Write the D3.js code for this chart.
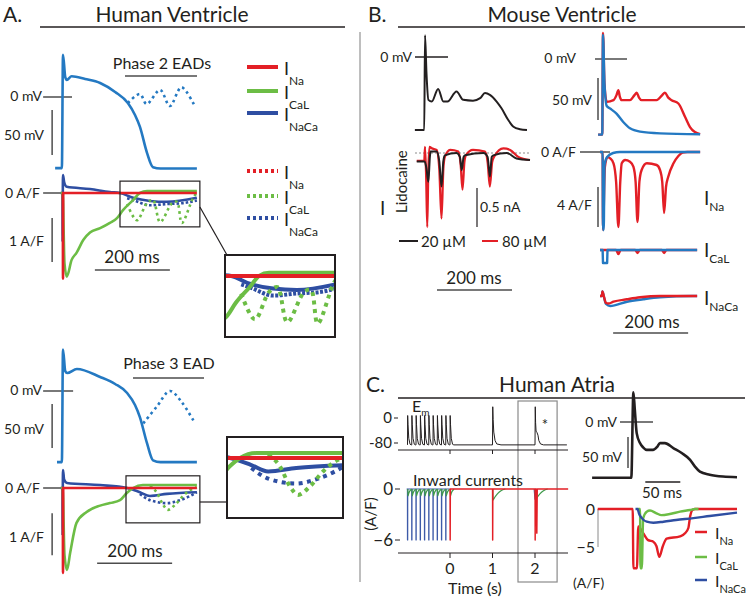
<!DOCTYPE html>
<html><head><meta charset="utf-8">
<script src="https://d3js.org/d3.v7.min.js"></script>
<style>
body{margin:0;background:#fff;}
svg text{font-family:Lato,"Open Sans","DejaVu Sans",sans-serif;fill:#231f20;}
</style></head><body>
<script>
// ================= DATA =================
// Panel A, human ventricle. time (ms), Vm (mV), currents (A/F)
const aTopAP   = [[-21,-79],[-3,-79],[0,47],[6,22],[10,19],[23,23],[59,20],[99,15.6],[139,5.6],[173,-6.7],[192,-20],[205,-33],[224,-62],[240,-78],[260,-79.5],[357,-79.5]];
const aTopEAD  = [[173,-6.7],[205,3.3],[223,-7.8],[259,7.8],[285,-10],[316,10.8],[352,-10.8]];
const aTopINa  = [[-3,0],[-0.5,0],[0,-1.95],[0.5,0],[357,0]];
const aTopICaL = [[-6,0],[-1,0],[4,-1.6],[10,-1.9],[23,-1.52],[36,-1.36],[54,-1.07],[72,-0.9],[99,-0.8],[125,-0.68],[144,-0.57],[160,-0.39],[187,-0.16],[205,0],[224,0.045],[357,0.045]];
const aTopICaLEAD = [[171,-0.25],[197,-0.62],[224,-0.23],[240,-0.16],[259,-0.66],[291,-0.23],[304,-0.2],[317,-0.68],[347,-0.11],[357,0]];
const aTopINaCa = [[-6,0],[-1.5,0],[-1,-1.1],[-0.5,0],[0,0.41],[3,0.25],[10,0.14],[72,0.09],[125,0.02],[152,0],[187,-0.11],[232,-0.18],[277,-0.2],[357,-0.11]];
const aTopINaCaEAD = [[171,-0.12],[190,-0.17],[232,-0.28],[277,-0.25],[320,-0.23],[357,-0.17]];

const aBotAP   = [[-16,-79],[-3,-79],[0,46],[6,22],[11,20],[37,24.4],[99,15.6],[139,7.8],[171,-2.2],[192,-15.6],[205,-29],[224,-58],[240,-77],[260,-79],[357,-79]];
const aBotEAD  = [[214,-36],[250,-17.4],[285,0],[316,-12],[352,-36]];
const aBotINa  = [[-3,0],[-0.5,0],[0,-2.02],[0.5,0],[357,0]];
const aBotICaL = [[-6,0],[-1,0],[4,-1.6],[10.7,-1.95],[19,-1.55],[36,-0.83],[63,-0.57],[99,-0.42],[125,-0.36],[152,-0.29],[170,-0.12],[187,0],[213,0.07],[357,0.07]];
const aBotICaLEAD = [[232,0.05],[251,-0.12],[267,-0.4],[280,-0.52],[299,-0.4],[320,-0.19],[339,-0.05],[357,0.02]];
const aBotINaCa = [[-6,0],[-1.5,0],[-1,-1.12],[-0.5,0],[0,0.43],[3,0.2],[10.7,0.12],[99,0.07],[171,0],[205,-0.1],[232,-0.19],[277,-0.14],[357,-0.1]];
const aBotINaCaEAD = [[205,-0.14],[232,-0.29],[277,-0.36],[312,-0.29],[339,-0.19],[357,-0.1]];

const aLegendSubs = ["Na","CaL","NaCa"];

// Panel B, mouse ventricle. left: Vm (mV) and I_Lidocaine (nA); right: Vm (mV), currents (A/F)
const bLeftAP = [[-27,-87],[-2,-87],[0,26],[4,-20],[9,-51],[18,-53],[35,-38],[49,-53],[60,-53],[84,-41],[102,-51],[128,-52],[147,-49],[160,-43],[173,-45],[191,-53],[204,-61],[222,-75],[236,-83],[253,-86],[272,-87]];
const bLeft20uM = [[-22,-0.11],[-1,-0.11],[4,-0.2],[9,-0.37],[13,-0.05],[15,0.02],[31,0.02],[38,-0.1],[44,-0.43],[49,-0.1],[53,-0.03],[84,0],[93,-0.05],[98,-0.22],[103,-0.05],[107,-0.03],[156,0],[167,-0.05],[173,-0.3],[178,-0.05],[182,-0.03],[218,0],[244,-0.07],[280,-0.09]];
const bLeft80uM = [[-22,-0.1],[-2,-0.1],[0,0.08],[3,-0.3],[6,-0.95],[9,-0.2],[12,0.08],[18,0.06],[31,0.04],[38,-0.2],[44,-0.84],[49,-0.2],[53,-0.05],[67,0.04],[89,0.02],[95,-0.15],[100,-0.47],[105,-0.12],[109,-0.03],[128,0.04],[160,0.02],[167,-0.12],[173,-0.43],[179,-0.12],[184,-0.05],[209,0.06],[227,0.04],[249,-0.05],[280,-0.09]];
const bLegend = ["20 µM","80 µM"];

const bRightAPblue = [[-13,-90],[-2,-90],[0,28.6],[4,-30],[10,-56],[19,-59],[36,-65],[54,-75],[72,-82.5],[99,-86.5],[152,-88.5],[259,-89.5]];
const bRightAPred  = [[-13,-90],[-2,-90],[0,31],[4,-30],[10,-51],[28,-49],[36,-43],[41,-37],[45,-45],[50,-49],[72,-49],[84,-43],[90,-40],[96,-46],[103,-49],[143,-49],[158,-43],[165,-40],[174,-46],[183,-49],[201,-53],[219,-69],[232,-81],[245,-87],[259,-89.5]];
const bRightINaBlue = [[-8,0],[-1,0],[0,-7.8],[2,-7.8],[4,-1.3],[11,-0.5],[27,-0.1],[45,0],[259,0]];
const bRightINaRed  = [[-8,0],[-1,0],[0,-7.8],[5,-1.5],[12,-0.5],[19,-0.63],[28,-1.13],[35,-3],[41,-7.5],[46,-3],[50,-1.13],[59,-0.8],[72,-0.97],[81,-1.47],[87,-3],[92,-7],[97,-3],[103,-1.8],[117,-1.13],[143,-1.3],[152,-1.8],[158,-3],[163,-6.1],[168,-3.5],[174,-2.47],[188,-1.13],[201,-0.4],[212,-0.07],[225,0],[259,0]];
const bRightICaLBlue = [[-8,0],[-1,0],[0,-1.3],[11,-1.3],[12,0],[251,0]];
const bRightICaLRed  = [[-8,0],[35,0],[41,-0.4],[47,0],[86,0],[92,-0.3],[98,0],[157,0],[163,-0.3],[169,0],[251,0]];
const bRightINaCaBlue = [[-8,0],[-3,0],[-1.5,0.45],[2,0],[8,-0.8],[19,-1.0],[64,-0.57],[107,-0.33],[152,-0.13],[240,0],[251,0]];
const bRightINaCaRed  = [[-8,0],[-3,0],[-1.5,0.45],[2,0],[8,-0.7],[15,-0.75],[28,-0.57],[64,-0.33],[99,-0.13],[152,0],[251,0]];
const bRightSubs = ["Na","CaL","NaCa"];

// Panel C, human atria. left: time (s), Em (mV), inward currents (A/F)
const cTrainTimes = [-1.0,-0.9,-0.8,-0.7,-0.6,-0.5,-0.4,-0.3,-0.2,-0.1,0.0];
const cTrainSpike = [[0,-86],[0.004,8],[0.012,-20],[0.03,-65],[0.06,-84],[0.09,-86]];
const cBeat1 = [[0.95,-86],[1.0,-86],[1.006,36],[1.015,-5],[1.03,-45],[1.06,-72],[1.1,-83],[1.2,-86]];
const cBeat2 = [[1.95,-86],[2.0,-86],[2.006,36],[2.014,-15],[2.025,-42],[2.045,-46],[2.07,-55],[2.09,-72],[2.13,-83],[2.2,-86],[2.75,-86]];
const cBlueSpike = [[-0.001,0],[0,-6],[0.004,-6],[0.005,0]];
const cGreenArc  = [[0.006,0],[0.012,-0.8],[0.03,-0.5],[0.06,-0.2],[0.095,-0.02]];
const cGreenBeat = [[0.006,0],[0.015,-1.3],[0.05,-1.0],[0.12,-0.55],[0.2,-0.2],[0.3,0]];
const cRedINa = [[-0.01,0],[0,0],[0.002,-6],[0.006,-6],[0.01,0],[1.0,0],[1.002,-6],[1.006,-6],[1.01,0],[2.0,0],[2.002,-6],[2.006,-6],[2.01,0],[2.03,0],[2.04,-5.2],[2.045,-5.2],[2.055,0],[2.78,0]];
const cBlueBeat2 = [[1.98,0],[2.0,-1.2],[2.03,0]];
const cEmTicks = [0,-80];
const cITicks = [0,-6];
const cTimeTicks = [0,1,2];
// right: time (ms), Vm (mV), currents (A/F)
const cRightAP = [[-57,-90],[-1,-90],[2,48],[4,20],[6.7,-18],[11.4,-34],[16,-41],[21,-45],[30,-45],[36,-40],[40,-34],[47,-34],[59,-42],[71,-50],[83,-61],[90,-72],[97,-80],[111,-85],[130,-88],[150,-89]];
const cRightINa = [[-49,0],[1,0],[2,-7.8],[7,-7.8],[9,-2.3],[16,-3.2],[23,-4.1],[30.5,-4.3],[35,-4.9],[39,-6.3],[44,-4.9],[49.5,-3.9],[68.6,-3.6],[75.7,-3.2],[80.5,-2.5],[83,-1.0],[86.7,-0.1],[90,0],[150,0]];
const cRightICaL = [[8,0],[11.5,0],[12,-7.8],[14,-7.8],[16,-1.2],[21,-0.35],[25.7,-0.2],[35,-0.57],[42,-0.8],[54,-0.66],[68.6,-0.35],[83,-0.13],[90,0],[95,0]];
const cRightINaCa = [[5,0],[8,0],[10,-0.6],[14,-1.2],[21,-1.67],[30.5,-1.8],[45,-1.67],[63,-1.45],[87.6,-1.2],[111,-0.92],[150,-0.48]];
const cRightITicks = [0,-5];
const cRightSubs = ["Na","CaL","NaCa"];

// ================= DRAWING =================
const COL = {ap:'#2479c2', ncx:'#2e4ea2', red:'#e31f26', green:'#6cbd45', black:'#231f20', bar:'#4d4d4d', cblue:'#3d5aa8', cgreen:'#3f9a4a'};
const svg = d3.select('body').append('svg').attr('width',747).attr('height',598);
const root = svg.append('g');

function lin(d0,d1,r0,r1){return d3.scaleLinear().domain([d0,d1]).range([r0,r1]);}
function trace(g,data,xs,ys,color,w,dash,curve){
  const l=d3.line().x(d=>xs(d[0])).y(d=>ys(d[1])).curve(curve||d3.curveMonotoneX);
  const p=g.append('path').attr('d',l(data)).attr('fill','none').attr('stroke',color)
    .attr('stroke-width',w).attr('stroke-linejoin','round');
  if(dash)p.attr('stroke-dasharray',dash);
  return p;
}
function seg(g,x1,y1,x2,y2,color,w){return g.append('line').attr('x1',x1).attr('y1',y1).attr('x2',x2).attr('y2',y2).attr('stroke',color).attr('stroke-width',w);}
function txt(g,x,y,s,size,anchor){return g.append('text').attr('x',x).attr('y',y).attr('font-size',size).attr('text-anchor',anchor||'start').text(s);}
function ilabel(g,x,y,sub,size,subSize,dy){
  const t=g.append('text').attr('x',x).attr('y',y).attr('font-size',size);
  t.append('tspan').text('I');
  t.append('tspan').attr('font-size',subSize).attr('dy',dy).text(sub);
  return t;
}
function rect(g,x0,y0,x1,y1,color,w){return g.append('rect').attr('x',x0).attr('y',y0).attr('width',x1-x0).attr('height',y1-y0).attr('fill','none').attr('stroke',color).attr('stroke-width',w);}

// ---------- titles ----------
txt(root,3,22,'A.',21);
txt(root,172,22,'Human Ventricle',21,'middle');
seg(root,40,27,345,27,COL.black,1.3);
txt(root,368,22,'B.',21);
txt(root,562,22,'Mouse Ventricle',21,'middle');
seg(root,398,27,745,27,COL.black,1.3);
seg(root,360,32,360,582,'#a8a8a8',1.5);

// ---------- Panel A top ----------
const aX = lin(0,200,63,138);
const aTopV = lin(0,50,97,52);
const aTopI = lin(0,1,193,149);
txt(root,162,69,'Phase 2 EADs',16,'middle');
seg(root,125,76,197,76,COL.bar,1.5);
seg(root,aX(-53),aTopV(0),aX(24),aTopV(0),COL.bar,1.5);
txt(root,42,101,'0 mV',14,'end');
seg(root,aX(-29),aTopV(-14.4),aX(-29),aTopV(-64.4),COL.bar,1.5);
txt(root,44,140,'50 mV',14,'end');
trace(root,aTopEAD,aX,aTopV,COL.ap,2.6,'2.6 3.4',d3.curveCatmullRom);
trace(root,aTopAP,aX,aTopV,COL.ap,2.6);

seg(root,aX(-53),aTopI(0),aX(24),aTopI(0),COL.bar,1.5);
txt(root,40,198,'0 A/F',14,'end');
seg(root,aX(-29),aTopI(-0.57),aX(-29),aTopI(-1.57),COL.bar,1.5);
txt(root,44,246,'1 A/F',14,'end');
trace(root,aTopINaCaEAD,aX,aTopI,COL.ncx,2.6,'2.6 2');
trace(root,aTopINaCa,aX,aTopI,COL.ncx,2.6);
trace(root,aTopICaLEAD,aX,aTopI,COL.green,2.6,'2.6 3.4',d3.curveCatmullRom);
trace(root,aTopICaL,aX,aTopI,COL.green,2.6);
trace(root,aTopINa,aX,aTopI,COL.red,2.6);
seg(root,aX(85),aTopI(-1.75),aX(285),aTopI(-1.75),COL.bar,1.6);
txt(root,132,263,'200 ms',17,'middle');
rect(root,aX(152),aTopI(0.27),aX(365),aTopI(-0.77),COL.black,1.2);

// zoomed box (top)
const zt = {x0:225,y0:255,x1:335,y1:337};
seg(root,aX(365),207,zt.x0+2,zt.y0,COL.black,1.2);
svg.append('defs').append('clipPath').attr('id','clipT').append('rect').attr('x',zt.x0).attr('y',zt.y0).attr('width',zt.x1-zt.x0).attr('height',zt.y1-zt.y0);
const gZT = root.append('g').attr('clip-path','url(#clipT)');
const zTX = lin(140,350,zt.x0,zt.x1);
const zTY = lin(0,1,276,206);
trace(gZT,aTopINaCaEAD,zTX,zTY,COL.ncx,4,'3 1.5');
trace(gZT,aTopINaCa,zTX,zTY,COL.ncx,4);
trace(gZT,aTopICaLEAD,zTX,zTY,COL.green,4,'4 4.5',d3.curveCatmullRom);
trace(gZT,aTopICaL,zTX,zTY,COL.green,4);
trace(gZT,aTopINa,zTX,zTY,COL.red,4);
rect(root,zt.x0,zt.y0,zt.x1,zt.y1,COL.black,2);

// legend A
const aLegY = [67,91,113];
const aLegCol = [COL.red,COL.green,COL.ncx];
aLegendSubs.forEach((s,i)=>{
  seg(root,247,aLegY[i],278,aLegY[i],aLegCol[i],4);
  ilabel(root,284,aLegY[i]+8,s,18,12,10);
});
const aLegY2 = [171,196,218];
aLegendSubs.forEach((s,i)=>{
  seg(root,247,aLegY2[i],278,aLegY2[i],aLegCol[i],4).attr('stroke-dasharray','3 3');
  ilabel(root,284,aLegY2[i]+8,s,18,12,10);
});

// ---------- Panel A bottom ----------
const aBotV = lin(0,50,391,346);
const aBotI = lin(0,1,488,446);
txt(root,169,369,'Phase 3 EAD',16,'middle');
seg(root,133,378,204,378,COL.bar,1.5);
seg(root,aX(-53),aBotV(0),aX(27),aBotV(0),COL.bar,1.5);
txt(root,42,395,'0 mV',14,'end');
seg(root,aX(-29),aBotV(-14.4),aX(-29),aBotV(-63.3),COL.bar,1.5);
txt(root,44,434,'50 mV',14,'end');
trace(root,aBotEAD,aX,aBotV,COL.ap,2.6,'2.6 3.4',d3.curveCatmullRom);
trace(root,aBotAP,aX,aBotV,COL.ap,2.6);

seg(root,aX(-53),aBotI(0),aX(24),aBotI(0),COL.bar,1.5);
txt(root,40,493,'0 A/F',14,'end');
seg(root,aX(-29),aBotI(-0.6),aX(-29),aBotI(-1.6),COL.bar,1.5);
txt(root,44,542,'1 A/F',14,'end');
trace(root,aBotINaCaEAD,aX,aBotI,COL.ncx,2.6,'2.6 2.4');
trace(root,aBotINaCa,aX,aBotI,COL.ncx,2.6);
trace(root,aBotICaLEAD,aX,aBotI,COL.green,2.6,'2.6 3.4');
trace(root,aBotICaL,aX,aBotI,COL.green,2.6);
trace(root,aBotINa,aX,aBotI,COL.red,2.6);
seg(root,aX(91),aBotI(-1.79),aX(291),aBotI(-1.79),COL.bar,1.6);
txt(root,135,557,'200 ms',17,'middle');
rect(root,aX(168),aBotI(0.29),aX(365),aBotI(-0.83),COL.black,1.2);

const zb = {x0:227,y0:437,x1:343,y1:518};
seg(root,aX(365),502,zb.x0,502,COL.black,1.2);
svg.select('defs').append('clipPath').attr('id','clipB').append('rect').attr('x',zb.x0).attr('y',zb.y0).attr('width',zb.x1-zb.x0).attr('height',zb.y1-zb.y0);
const gZB = root.append('g').attr('clip-path','url(#clipB)');
const zBX = lin(166,352,zb.x0,zb.x1);
const zBY = lin(0,1,458,387);
trace(gZB,aBotINaCaEAD,zBX,zBY,COL.ncx,4,'4 4.5');
trace(gZB,aBotINaCa,zBX,zBY,COL.ncx,4);
trace(gZB,aBotICaLEAD,zBX,zBY,COL.green,4,'4 4.5');
trace(gZB,aBotICaL,zBX,zBY,COL.green,4);
trace(gZB,aBotINa,zBX,zBY,COL.red,4);
rect(root,zb.x0,zb.y0,zb.x1,zb.y1,COL.black,2);

// ---------- Panel B left ----------
const bX = lin(0,200,425,500);
const bLV = lin(0,50,57,15);
const bLI = lin(0,0.5,153,114);
seg(root,415,bLV(0),448,bLV(0),COL.black,1.3);
txt(root,412,62,'0 mV',14,'end');
trace(root,bLeftAP,bX,bLV,COL.black,2);
seg(root,415,bLI(0),530,bLI(0),'#8c8c8c',1).attr('stroke-dasharray','2 2');
trace(root,bLeft80uM,bX,bLI,COL.red,2.2);
trace(root,bLeft20uM,bX,bLI,COL.black,2);
txt(root,380,215,'I',19);
txt(root,0,0,'Lidocaine',15).attr('transform','translate(407,213) rotate(-90)');
seg(root,477,bLI(-0.45),477,bLI(-0.95),COL.black,1.2);
txt(root,480,212,'0.5 nA',14);
seg(root,399,241,418,241,COL.black,2);
txt(root,421,247,bLegend[0],15);
seg(root,482,241,498,241,COL.red,2);
txt(root,502,247,bLegend[1],15);
seg(root,bX(32),290,bX(232),290,COL.bar,1.6);
txt(root,474,284,'200 ms',17,'middle');

// ---------- Panel B right ----------
const bRX = lin(0,200,603,678);
const bRV = lin(0,50,59,17);
const bRINa = lin(0,1,152,142);
const bRICaL = lin(0,1,250,240);
const bRNCX = lin(0,1,296,286);
seg(root,595,bRV(0),627,bRV(0),COL.bar,1.5);
txt(root,576,63,'0 mV',14,'end');
seg(root,598,bRV(-22.6),598,bRV(-72.6),COL.bar,1.5);
txt(root,592,105,'50 mV',14,'end');
trace(root,bRightAPred,bRX,bRV,COL.red,2.4);
trace(root,bRightAPblue,bRX,bRV,COL.ap,2.4);
seg(root,580,bRINa(0),610,bRINa(0),COL.bar,1.5);
txt(root,576,157,'0 A/F',14,'end');
seg(root,598,bRINa(-3.5),598,bRINa(-7.5),COL.bar,1.5);
txt(root,592,210,'4 A/F',14,'end');
trace(root,bRightINaRed,bRX,bRINa,COL.red,2.4);
trace(root,bRightINaBlue,bRX,bRINa,COL.ap,2.4);
trace(root,bRightICaLRed,bRX,bRICaL,COL.red,2.4);
trace(root,bRightICaLBlue,bRX,bRICaL,COL.ap,2.4,null,d3.curveLinear);
trace(root,bRightINaCaBlue,bRX,bRNCX,COL.ap,2.4);
trace(root,bRightINaCaRed,bRX,bRNCX,COL.red,2.4);
const bRLabY=[205,257,305];
bRightSubs.forEach((s,i)=>ilabel(root,704,bRLabY[i],s,19,12,6));
seg(root,bRX(27),333,bRX(227),333,COL.bar,1.6);
txt(root,652,328,'200 ms',17,'middle');

// ---------- Panel C ----------
txt(root,366,392,'C.',21);
txt(root,557,392,'Human Atria',21,'middle');
seg(root,398,398,745,398,COL.black,1.3);

const cX = lin(0,2,450,535);
const cEmY = lin(0,-80,418,443);
const cIY = lin(0,-6,489,540);
const cEm = [].concat(...cTrainTimes.map(t=>cTrainSpike.map(p=>[t+p[0],p[1]])), cBeat1, cBeat2);
rect(root,cX(1.6),401,cX(2.52),582,'#8a8a8a',1.2);
txt(root,412,412,'E',16).append('tspan').attr('font-size',10).attr('dy',4).text('m');
cEmTicks.forEach(v=>{
  seg(root,394,cEmY(v),398,cEmY(v),COL.black,1);
  txt(root,392,cEmY(v)+5,v===0?'0':'-80',15,'end');
});
seg(root,398,450,568,450,COL.black,1);
cTimeTicks.forEach(t=>seg(root,cX(t),450,cX(t),454,COL.black,1));
trace(root,cEm,cX,cEmY,COL.black,1,null,d3.curveLinear);
txt(root,545,430,'*',15,'middle').attr('fill','#555');

txt(root,413,486,'Inward currents',16);
cITicks.forEach(v=>{
  seg(root,395,cIY(v),400,cIY(v),COL.black,1);
  txt(root,393,cIY(v)+6,v===0?'0':'\u22126',17,'end');
});
txt(root,0,0,'(A/F)',15).attr('text-anchor','middle').attr('transform','translate(376,514) rotate(-90)');
seg(root,398,553,568,553,COL.black,1);
cTimeTicks.forEach(t=>{
  seg(root,cX(t),553,cX(t),558,COL.black,1);
  txt(root,cX(t),574,String(t),16,'middle');
});
txt(root,475,594,'Time (s)',16,'middle');
// currents
const cBlue = [[-1.02,0]].concat(...cTrainTimes.slice(0,10).map(t=>cBlueSpike.map(p=>[t+p[0],p[1]])),[[-0.01,0]]);
trace(root,cBlue,cX,cIY,COL.cblue,1.2,null,d3.curveLinear);
trace(root,cBlueBeat2,cX,cIY,COL.cblue,1.2,null,d3.curveLinear);
cTrainTimes.forEach(t=>trace(root,cGreenArc.map(p=>[t+p[0],p[1]]),cX,cIY,COL.cgreen,1.2));
[1,2].forEach(t=>trace(root,cGreenBeat.map(p=>[t+p[0],p[1]]),cX,cIY,COL.cgreen,1.2));
trace(root,cRedINa,cX,cIY,COL.red,1.3,null,d3.curveLinear);

// C right
const cRX = lin(0,50,632,667);
const cRV = lin(0,50,422,391);
const cRI = lin(0,-5,509,547);
seg(root,620,cRV(0),653,cRV(0),COL.bar,1.5);
txt(root,617,427,'0 mV',14,'end');
seg(root,628,cRV(-24),628,cRV(-74),COL.bar,1.5);
txt(root,622,462,'50 mV',14,'end');
trace(root,cRightAP,cRX,cRV,COL.black,2.6);
seg(root,cRX(19),482,cRX(69),482,COL.black,1.5);
txt(root,662,498,'50 ms',15,'middle');
seg(root,598,cRI(0),598,cRI(-5),'#8a8a8a',1);
cRightITicks.forEach(v=>txt(root,595,cRI(v)+6,v===0?'0':'\u22125',16,'end'));
txt(root,573,588,'(A/F)',14);
trace(root,cRightINa,cRX,cRI,COL.red,2.4);
trace(root,cRightICaL,cRX,cRI,COL.green,2.4);
trace(root,cRightINaCa,cRX,cRI,COL.ncx,2.4);
const cLegY=[532,557,580];
const cLegCol=[COL.red,COL.green,COL.ncx];
cRightSubs.forEach((s,i)=>{
  seg(root,695,cLegY[i],707,cLegY[i],cLegCol[i],2.5);
  ilabel(root,715,cLegY[i]+7,s,16,11,6);
});
</script></body></html>
